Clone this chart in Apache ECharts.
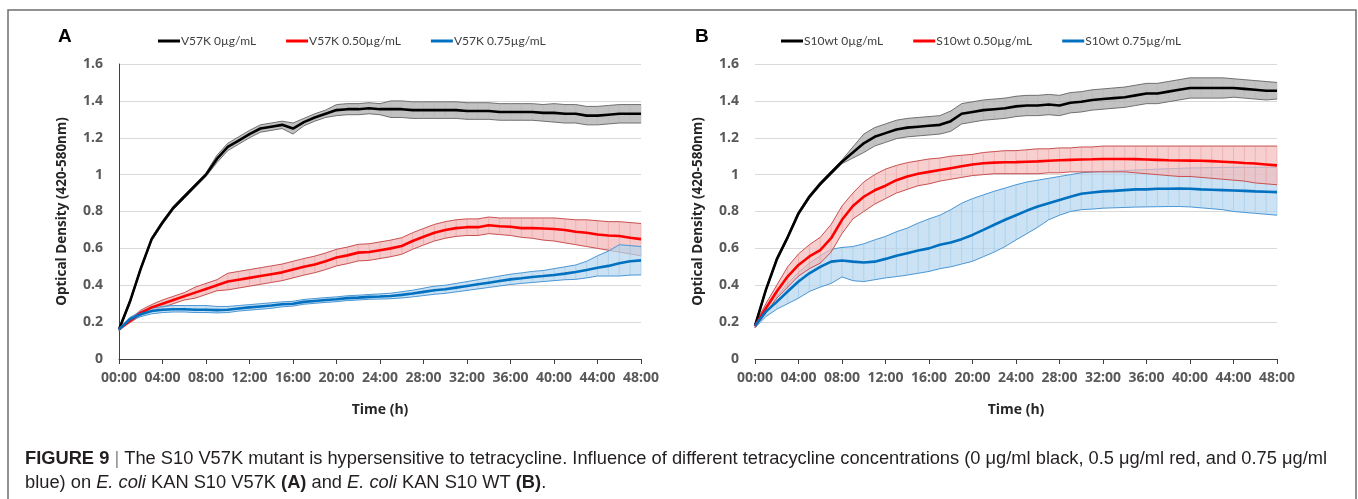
<!DOCTYPE html>
<html>
<head>
<meta charset="utf-8">
<script src="https://cdn.jsdelivr.net/npm/echarts@6/dist/echarts.min.js"></script>
<style>
  html, body { margin: 0; padding: 0; background: #fff; }
  #chart { width: 1358px; height: 499px; }
</style>
</head>
<body>
<div id="chart"></div>
<script>
// time in hours, one reading per hour
const hours = [0,1,2,3,4,5,6,7,8,9,10,11,12,13,14,15,16,17,18,19,20,21,22,23,24,25,26,27,28,29,30,31,32,33,34,35,36,37,38,39,40,41,42,43,44,45,46,47,48];
const timeLabels = ['00:00','04:00','08:00','12:00','16:00','20:00','24:00','28:00','32:00','36:00','40:00','44:00','48:00'];

// panel A: V57K
const v57k0Mean  = [0.16,0.31,0.49,0.65,0.74,0.82,0.88,0.94,1.00,1.085,1.15,1.185,1.22,1.25,1.26,1.27,1.25,1.285,1.31,1.33,1.35,1.355,1.355,1.36,1.355,1.355,1.355,1.35,1.35,1.35,1.35,1.35,1.345,1.345,1.345,1.34,1.34,1.34,1.34,1.335,1.335,1.33,1.33,1.32,1.32,1.325,1.33,1.33,1.33];
const v57k0Hi    = [0.17,0.32,0.50,0.66,0.75,0.83,0.89,0.95,1.01,1.105,1.17,1.205,1.24,1.27,1.28,1.29,1.28,1.305,1.33,1.35,1.38,1.385,1.385,1.39,1.385,1.40,1.40,1.395,1.395,1.395,1.395,1.395,1.39,1.39,1.39,1.385,1.385,1.385,1.385,1.38,1.385,1.38,1.38,1.37,1.37,1.375,1.38,1.38,1.38];
const v57k0Lo    = [0.15,0.30,0.48,0.64,0.73,0.81,0.87,0.93,0.99,1.065,1.13,1.165,1.20,1.23,1.24,1.25,1.22,1.265,1.29,1.31,1.32,1.325,1.325,1.33,1.325,1.31,1.31,1.305,1.305,1.305,1.305,1.305,1.30,1.30,1.30,1.295,1.295,1.295,1.295,1.29,1.285,1.28,1.28,1.27,1.27,1.275,1.28,1.28,1.28];
const v57k50Mean = [0.16,0.207,0.25,0.28,0.30,0.32,0.34,0.36,0.38,0.40,0.42,0.43,0.44,0.45,0.46,0.47,0.485,0.50,0.513,0.53,0.55,0.562,0.577,0.58,0.59,0.60,0.613,0.64,0.663,0.685,0.70,0.71,0.715,0.715,0.725,0.72,0.717,0.71,0.71,0.708,0.705,0.70,0.69,0.685,0.675,0.67,0.667,0.658,0.65];
const v57k50Hi   = [0.16,0.217,0.265,0.295,0.32,0.34,0.36,0.39,0.41,0.43,0.465,0.475,0.485,0.495,0.505,0.515,0.53,0.545,0.558,0.575,0.595,0.607,0.622,0.625,0.635,0.645,0.658,0.685,0.708,0.73,0.745,0.755,0.76,0.76,0.77,0.765,0.765,0.765,0.765,0.765,0.765,0.76,0.755,0.755,0.75,0.745,0.745,0.74,0.735];
const v57k50Lo   = [0.16,0.197,0.235,0.265,0.28,0.30,0.32,0.33,0.35,0.37,0.375,0.385,0.395,0.405,0.415,0.425,0.44,0.455,0.468,0.485,0.505,0.517,0.532,0.535,0.545,0.555,0.568,0.595,0.618,0.64,0.655,0.665,0.67,0.67,0.68,0.675,0.67,0.66,0.655,0.645,0.64,0.63,0.62,0.61,0.60,0.59,0.58,0.57,0.56];
const v57k75Mean = [0.16,0.216,0.243,0.26,0.267,0.27,0.27,0.267,0.267,0.265,0.267,0.274,0.28,0.285,0.29,0.297,0.30,0.31,0.315,0.32,0.324,0.33,0.333,0.337,0.339,0.342,0.348,0.355,0.364,0.373,0.378,0.387,0.396,0.405,0.414,0.423,0.432,0.438,0.445,0.45,0.456,0.463,0.472,0.483,0.495,0.505,0.519,0.53,0.535];
const v57k75Hi   = [0.16,0.226,0.258,0.275,0.285,0.29,0.29,0.29,0.29,0.285,0.285,0.29,0.295,0.30,0.305,0.31,0.313,0.323,0.328,0.333,0.337,0.343,0.346,0.35,0.353,0.357,0.365,0.373,0.384,0.395,0.40,0.41,0.42,0.43,0.44,0.45,0.46,0.467,0.475,0.48,0.49,0.50,0.51,0.53,0.56,0.585,0.62,0.615,0.61];
const v57k75Lo   = [0.16,0.206,0.23,0.245,0.252,0.255,0.255,0.252,0.252,0.25,0.252,0.26,0.265,0.27,0.275,0.283,0.287,0.297,0.302,0.307,0.311,0.317,0.32,0.324,0.325,0.327,0.331,0.337,0.344,0.351,0.356,0.364,0.372,0.38,0.388,0.396,0.404,0.41,0.415,0.42,0.425,0.43,0.432,0.44,0.45,0.45,0.45,0.455,0.456];

// panel B: S10wt
const wt0Mean  = [0.18,0.375,0.54,0.66,0.79,0.88,0.95,1.01,1.07,1.12,1.17,1.205,1.225,1.245,1.255,1.26,1.265,1.27,1.29,1.33,1.34,1.35,1.355,1.36,1.37,1.375,1.375,1.38,1.375,1.39,1.395,1.405,1.41,1.415,1.42,1.43,1.44,1.44,1.45,1.46,1.47,1.47,1.47,1.47,1.47,1.465,1.46,1.455,1.455];
const wt0Hi    = [0.19,0.385,0.55,0.67,0.80,0.89,0.96,1.02,1.08,1.15,1.22,1.255,1.275,1.295,1.305,1.31,1.315,1.32,1.345,1.385,1.395,1.405,1.41,1.415,1.425,1.43,1.43,1.435,1.43,1.445,1.45,1.46,1.465,1.47,1.475,1.485,1.495,1.495,1.505,1.515,1.525,1.525,1.525,1.525,1.52,1.515,1.51,1.505,1.50];
const wt0Lo    = [0.17,0.365,0.53,0.65,0.78,0.87,0.94,1.00,1.06,1.09,1.12,1.155,1.175,1.195,1.205,1.21,1.215,1.22,1.235,1.275,1.285,1.295,1.30,1.305,1.315,1.32,1.32,1.325,1.32,1.335,1.34,1.35,1.355,1.36,1.365,1.375,1.385,1.385,1.395,1.405,1.415,1.415,1.415,1.415,1.42,1.415,1.41,1.405,1.41];
const wt50Mean = [0.18,0.275,0.366,0.447,0.51,0.556,0.59,0.655,0.755,0.83,0.88,0.915,0.94,0.97,0.99,1.005,1.015,1.025,1.035,1.045,1.055,1.062,1.065,1.067,1.068,1.07,1.072,1.075,1.078,1.08,1.082,1.083,1.085,1.085,1.085,1.084,1.082,1.08,1.078,1.077,1.076,1.075,1.073,1.07,1.067,1.063,1.06,1.055,1.05];
const wt50Hi   = [0.19,0.30,0.40,0.50,0.57,0.62,0.66,0.73,0.83,0.90,0.96,1.00,1.03,1.05,1.065,1.075,1.085,1.09,1.10,1.105,1.11,1.12,1.125,1.13,1.13,1.135,1.14,1.14,1.145,1.145,1.15,1.15,1.155,1.155,1.155,1.155,1.155,1.155,1.155,1.155,1.155,1.155,1.155,1.155,1.155,1.155,1.155,1.155,1.155];
const wt50Lo   = [0.17,0.25,0.33,0.39,0.45,0.49,0.52,0.58,0.68,0.76,0.80,0.84,0.87,0.90,0.92,0.94,0.95,0.965,0.975,0.985,0.995,1.00,1.005,1.005,1.005,1.005,1.005,1.01,1.01,1.015,1.015,1.015,1.015,1.015,1.015,1.01,1.005,1.00,0.995,0.99,0.99,0.985,0.98,0.975,0.97,0.965,0.955,0.95,0.945];
const wt75Mean = [0.18,0.257,0.31,0.366,0.42,0.465,0.50,0.528,0.534,0.528,0.523,0.528,0.543,0.56,0.574,0.588,0.60,0.62,0.632,0.65,0.673,0.70,0.728,0.755,0.78,0.805,0.827,0.845,0.863,0.88,0.896,0.903,0.909,0.912,0.916,0.92,0.92,0.923,0.923,0.925,0.923,0.92,0.918,0.916,0.914,0.912,0.909,0.907,0.905];
const wt75Hi   = [0.19,0.28,0.34,0.41,0.47,0.52,0.56,0.595,0.605,0.61,0.625,0.646,0.665,0.69,0.71,0.737,0.76,0.78,0.81,0.845,0.87,0.89,0.91,0.927,0.945,0.96,0.97,0.98,0.99,1.0,1.01,1.015,1.018,1.02,1.022,1.025,1.027,1.03,1.032,1.034,1.036,1.037,1.038,1.039,1.04,1.04,1.04,1.04,1.04];
const wt75Lo   = [0.17,0.23,0.27,0.30,0.33,0.366,0.39,0.41,0.445,0.425,0.42,0.43,0.44,0.447,0.455,0.465,0.475,0.49,0.50,0.515,0.53,0.555,0.58,0.61,0.646,0.68,0.715,0.755,0.78,0.80,0.81,0.813,0.818,0.82,0.822,0.824,0.825,0.826,0.827,0.827,0.825,0.82,0.815,0.81,0.80,0.795,0.79,0.785,0.78];

const BLACK = '#000000', RED = '#ff0000', BLUE = '#0070c0';

// error band: one custom item that draws the filled area between lo and hi,
// its two edges, and a vertical error bar at every reading
function band(gi, lo, hi, fill, edge, bar) {
  return {
    type: 'custom', xAxisIndex: gi, yAxisIndex: gi, silent: true, z: 1,
    data: [[0, lo[0], hi[0]]],
    renderItem: (params, api) => {
      const top = hours.map((h, i) => api.coord([h, hi[i]]));
      const bot = hours.map((h, i) => api.coord([h, lo[i]]));
      const kids = [{
        type: 'polygon', shape: {points: top.concat(bot.slice().reverse())},
        style: {fill: fill, opacity: 0.7}
      }];
      hours.forEach((h, i) => kids.push({
        type: 'line', shape: {x1: top[i][0], y1: top[i][1], x2: bot[i][0], y2: bot[i][1]},
        style: {stroke: bar, lineWidth: 1, opacity: 0.6}
      }));
      kids.push({type: 'polyline', shape: {points: top}, style: {fill: null, stroke: edge, lineWidth: 1}});
      kids.push({type: 'polyline', shape: {points: bot}, style: {fill: null, stroke: edge, lineWidth: 1}});
      return {type: 'group', children: kids};
    }
  };
}

function mean(name, gi, vals, color) {
  return {
    name: name, type: 'line', xAxisIndex: gi, yAxisIndex: gi,
    data: hours.map((h, i) => [h, vals[i]]), symbol: 'none', z: 3,
    itemStyle: {color: color}, lineStyle: {color: color, width: 2.6}
  };
}

const axisFont = {fontFamily: 'Open Sans', fontWeight: 'bold', fontSize: 14, color: '#595959'};

function xAx(gi) {
  return {
    gridIndex: gi, type: 'value', min: 0, max: 48, interval: 4,
    name: 'Time (h)', nameLocation: 'middle', nameGap: 44,
    nameTextStyle: {fontFamily: 'Open Sans', fontWeight: 'bold', fontSize: 14, color: '#262626'},
    axisLine: {show: true, lineStyle: {color: '#404040', width: 1}},
    axisTick: {show: true, inside: false, length: 5, lineStyle: {color: '#404040'}},
    splitLine: {show: false},
    axisLabel: Object.assign({margin: 12, formatter: v => timeLabels[v / 4], interval: 0, hideOverlap: false}, axisFont)
  };
}

function yAx(gi, showLine) {
  return {
    gridIndex: gi, type: 'value', min: 0, max: 1.6, interval: 0.2,
    name: 'Optical Density (420-580nm)', nameLocation: 'middle', nameGap: 50, nameRotate: 90,
    nameTextStyle: {fontFamily: 'Open Sans', fontWeight: 'bold', fontSize: 13.5, color: '#262626'},
    axisLine: {show: showLine, lineStyle: {color: '#404040', width: 1}},
    axisTick: {show: false},
    splitLine: {show: true, lineStyle: {color: '#d9d9d9', width: 1}},
    axisLabel: Object.assign({margin: 16}, axisFont)
  };
}

const legendBase = {
  top: 30, icon: 'rect', itemWidth: 22, itemHeight: 3, itemGap: 30,
  textStyle: {fontFamily: 'Lato', fontSize: 12, color: '#404040', padding: [0, 0, 0, -4]}
};

const option = {
  animation: false,
  backgroundColor: '#ffffff',
  grid: [
    {left: 119, top: 64, width: 522, height: 295},
    {left: 755, top: 64, width: 522, height: 295}
  ],
  xAxis: [xAx(0), xAx(1)],
  yAxis: [yAx(0, true), yAx(1, false)],
  legend: [
    Object.assign({left: 153, data: ['V57K 0µg/mL', 'V57K 0.50µg/mL', 'V57K 0.75µg/mL']}, legendBase),
    Object.assign({left: 776, data: ['S10wt 0µg/mL', 'S10wt 0.50µg/mL', 'S10wt 0.75µg/mL']}, legendBase)
  ],
  series: [
    band(0, v57k0Lo, v57k0Hi, '#a8a8a8', '#707070', '#b8b8b8'),
    band(0, v57k50Lo, v57k50Hi, '#f2b4b4', '#c85050', '#eaa0a0'),
    band(0, v57k75Lo, v57k75Hi, '#b4d6ee', '#4a96d4', '#9cc8e8'),
    band(1, wt0Lo, wt0Hi, '#a8a8a8', '#707070', '#b8b8b8'),
    band(1, wt75Lo, wt75Hi, '#b4d6ee', '#4a96d4', '#9cc8e8'),
    band(1, wt50Lo, wt50Hi, '#f4baba', '#c85050', '#eaa0a0'),
    mean('V57K 0µg/mL', 0, v57k0Mean, BLACK),
    mean('V57K 0.50µg/mL', 0, v57k50Mean, RED),
    mean('V57K 0.75µg/mL', 0, v57k75Mean, BLUE),
    mean('S10wt 0µg/mL', 1, wt0Mean, BLACK),
    mean('S10wt 0.50µg/mL', 1, wt50Mean, RED),
    mean('S10wt 0.75µg/mL', 1, wt75Mean, BLUE)
  ],
  graphic: [
    {type: 'rect', shape: {x: 8, y: 10, width: 1348, height: 520}, style: {fill: 'none', stroke: '#6e6e6e', lineWidth: 1.5}, silent: true},
    {type: 'text', left: 58, top: 27, style: {text: 'A', font: 'bold 19px "Liberation Sans"', fill: '#000'}},
    {type: 'text', left: 695, top: 27, style: {text: 'B', font: 'bold 19px "Liberation Sans"', fill: '#000'}},
    {type: 'text', left: 25, top: 447, style: {
      text: '{b|FIGURE 9} {g||} The S10 V57K mutant is hypersensitive to tetracycline. Influence of different tetracycline concentrations (0 μg/ml black, 0.5 μg/ml red, and 0.75 μg/ml\nblue) on {i|E. coli} KAN S10 V57K {b|(A)} and {i|E. coli} KAN S10 WT {b|(B)}.',
      font: '18.3px "Liberation Sans"', fill: '#231f20', lineHeight: 24,
      rich: {
        b: {fontWeight: 'bold', fontFamily: 'Liberation Sans', fontSize: 18.3, fill: '#231f20', lineHeight: 24},
        g: {fontFamily: 'Liberation Sans', fontSize: 18.3, fill: '#8a8a8a', lineHeight: 24},
        i: {fontStyle: 'italic', fontFamily: 'Liberation Sans', fontSize: 18.3, fill: '#231f20', lineHeight: 24}
      }
    }}
  ]
};

const chart = echarts.init(document.getElementById('chart'));
chart.setOption(option);
window.addEventListener('resize', () => chart.resize());
</script>
</body>
</html>
